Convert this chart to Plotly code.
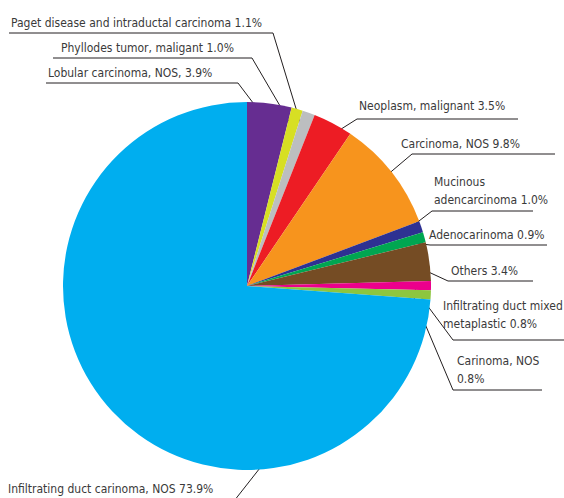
import math
import plotly.graph_objects as go

# Slice data, clockwise from 12 o'clock
names = [
    "Lobular carcinoma, NOS, 3.9%",
    "Phyllodes tumor, maligant 1.0%",
    "Paget disease and intraductal carcinoma 1.1%",
    "Neoplasm, malignant 3.5%",
    "Carcinoma, NOS 9.8%",
    "Mucinous<br>adencarcinoma 1.0%",
    "Adenocarinoma 0.9%",
    "Others 3.4%",
    "Infiltrating duct mixed<br>metaplastic 0.8%",
    "Carinoma, NOS<br>0.8%",
    "Infiltrating duct carinoma, NOS 73.9%",
]
values = [3.9, 1.0, 1.1, 3.5, 9.8, 1.0, 0.9, 3.4, 0.8, 0.8, 73.9]
colors = ["#662D91", "#D7DF23", "#BCBEC0", "#ED1C24", "#F7941D", "#2E3192",
          "#00A651", "#754C24", "#EC008C", "#8DC63F", "#00AEEF"]

# Figure geometry (pixels)
W, H = 564, 498
CX, CY, R = 247, 286, 184
LINE_STEP = 18.5

# Callout layout per slice: text left x, underline y, underline x-range,
# elbow x, extra gap between text and underline
callouts = [
    dict(tx=46,  uy=83,  ux=(46, 238),  ex=238, gap=0),
    dict(tx=59,  uy=58,  ux=(53, 252),  ex=252, gap=0),
    dict(tx=9,   uy=33,  ux=(9, 273),   ex=273, gap=0),
    dict(tx=357, uy=119, ux=(357, 518), ex=357, gap=3),
    dict(tx=399, uy=154, ux=(412, 555), ex=412, gap=0),
    dict(tx=432, uy=211, ux=(432, 533), ex=432, gap=1),
    dict(tx=427, uy=245, ux=(430, 547), ex=430, gap=0),
    dict(tx=449, uy=281, ux=(448, 533), ex=448, gap=0),
    dict(tx=441, uy=340, ux=(453, 566), ex=453, gap=6),
    dict(tx=455, uy=390, ux=(453, 542), ex=453, gap=1),
    dict(tx=6,   uy=None, ux=None, ex=None, gap=0),
]

total = sum(values)
fig = go.Figure()
fig.add_trace(go.Pie(
    values=values, labels=[n.replace("<br>", " ") for n in names],
    marker=dict(colors=colors, line=dict(width=0)),
    sort=False, direction="clockwise", rotation=0,
    textinfo="none", hoverinfo="label+value", showlegend=False,
    domain=dict(x=[(CX - R) / W, (CX + R) / W],
                y=[(H - CY - R) / H, (H - CY + R) / H]),
))

font = dict(family="DejaVu Sans Condensed, Liberation Sans Narrow, sans-serif",
            size=12, color="#3a3a3a")
line_col = "#231F20"

cum = 0.0
dots_x, dots_y = [], []
annotations = []
for i, (v, c) in enumerate(zip(values, callouts)):
    mid = (cum + v / 2) / total
    cum += v
    if i == len(values) - 1:
        # the large slice is labelled near its lower edge
        ang = math.radians(173)
        rr = 0.94 * R
    else:
        ang = 2 * math.pi * mid
        rr = 0.9 * R
    dx = CX + rr * math.sin(ang)
    dy = CY - rr * math.cos(ang)
    dots_x.append(dx)
    dots_y.append(dy)
    if c["uy"] is not None:
        if c["ex"] == c["ux"][0]:
            xs = [dx, c["ex"], c["ux"][1]]
        else:
            xs = [dx, c["ex"], c["ux"][0]]
        ys = [dy, c["uy"], c["uy"]]
        fig.add_trace(go.Scatter(x=xs, y=ys, mode="lines",
                                 line=dict(color=line_col, width=1),
                                 hoverinfo="skip", showlegend=False))
        parts = names[i].split("<br>")
        n = len(parts)
        for k, part in enumerate(parts):
            y = c["uy"] - 1 - c["gap"] - LINE_STEP * (n - 1 - k)
            annotations.append(dict(x=c["tx"], y=y, xref="x", yref="y",
                                    text=part, showarrow=False, align="left",
                                    xanchor="left", yanchor="bottom", font=font))
    else:
        fig.add_trace(go.Scatter(x=[dx, dx - 33], y=[dy, dy + 42], mode="lines",
                                 line=dict(color=line_col, width=1),
                                 hoverinfo="skip", showlegend=False))
        annotations.append(dict(x=c["tx"], y=489, xref="x", yref="y",
                                text=names[i], showarrow=False, align="left",
                                xanchor="left", yanchor="middle", font=font))

fig.add_trace(go.Scatter(x=dots_x, y=dots_y, mode="markers",
                         marker=dict(color=line_col, size=6),
                         hoverinfo="skip", showlegend=False))

fig.update_layout(
    width=W, height=H, margin=dict(l=0, r=0, t=0, b=0),
    paper_bgcolor="white", plot_bgcolor="rgba(0,0,0,0)",
    xaxis=dict(range=[0, W], visible=False, fixedrange=True, domain=[0, 1]),
    yaxis=dict(range=[H, 0], visible=False, fixedrange=True, domain=[0, 1]),
    annotations=annotations,
)
fig.write_html("out.html")
